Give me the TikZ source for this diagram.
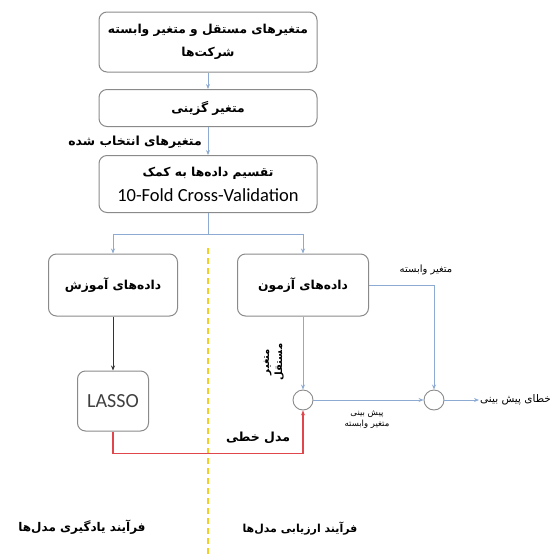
\documentclass[tikz,border=0pt]{standalone}
\usepackage{fontspec}
\setmainfont{Carlito}
\newfontfamily\fa[Script=Arabic]{DejaVu Sans}
\TeXXeTstate=1
\newcommand\rl[1]{{\fa\beginR #1\endR}}
\usetikzlibrary{arrows.meta}
\definecolor{bl}{HTML}{8CAAD2}
\definecolor{rd}{HTML}{E0474C}
\definecolor{yl}{HTML}{F2D024}
\definecolor{bx}{HTML}{8A8A8A}
\tikzset{
  box/.style={draw=bx, line width=1pt, rounded corners=8pt, align=center, inner sep=2pt, font=\fontsize{12.3}{23}\selectfont\bfseries},
  bline/.style={draw=bl, line width=1pt},
  barr/.style={bline, -{Stealth[length=5pt,width=4pt]}},
  sm/.style={font=\fontsize{8.5}{11}\selectfont, align=center, inner sep=1pt},
  lab/.style={inner sep=1pt, font=\fontsize{12.5}{14}\selectfont\bfseries},
  cir/.style={circle, draw=bx, line width=0.9pt, minimum size=20pt, inner sep=0pt},
}
\begin{document}
\begin{tikzpicture}[x=1pt,y=-1pt]
\useasboundingbox (0,0) rectangle (554,558);
% yellow divider
\draw[yl, line width=1.8pt, dash pattern=on 6pt off 4pt] (208,248) -- (208,558);
% boxes
\node[box, minimum width=218pt, minimum height=60pt] (b1) at (208,42) {\rl{متغیرهای مستقل و متغیر وابسته}\\\rl{شرکت‌ها}};
\node[box, minimum width=218pt, minimum height=37pt] (b2) at (208,108) {\rl{متغیر گزینی}};
\node[box, minimum width=218pt, minimum height=57pt, font=\fontsize{12.3}{25}\selectfont\bfseries] (b3) at (208,184) {\rl{تقسیم داده‌ها به کمک}\\{\fontsize{18.5}{20}\selectfont\mdseries 10-Fold Cross-Validation}};
\node[box, minimum width=129pt, minimum height=62pt] (train) at (113,285) {\rl{داده‌های آموزش}};
\node[box, minimum width=131pt, minimum height=62pt] (test) at (303,285) {\rl{داده‌های آزمون}};
\node[box, minimum width=71pt, minimum height=60pt, font=\fontsize{20}{22}\selectfont, text=black!75] (lasso) at (113,401) {LASSO};
\node[cir] (c1) at (303,400) {};
\node[cir] (c2) at (434,400) {};
\node[sm, anchor=west, font=\fontsize{10.5}{12}\selectfont] (err) at (479,400) {\rl{خطای پیش بینی}};
% labels
\node[lab, anchor=east] (lsel) at (203,142) {\rl{متغیرهای انتخاب شده}};
\node[sm, font=\fontsize{10}{12}\selectfont] (ldep) at (426,270) {\rl{متغیر وابسته}};
\node[sm, rotate=90, font=\fontsize{10}{13}\selectfont\bfseries] (lind) at (274,362) {\rl{متغیر}\\\rl{مستقل}};
\node[sm] (lpred) at (367,420) {\rl{پیش بینی}\\\rl{متغیر وابسته}};
\node[lab] (llin) at (258,438) {\rl{مدل خطی}};
\node[lab, font=\fontsize{12}{14}\selectfont\bfseries] (llearn) at (82,527) {\rl{فرآیند یادگیری مدل‌ها}};
\node[lab, font=\fontsize{11}{14}\selectfont\bfseries] (leval) at (300,529) {\rl{فرآیند ارزیابی مدل‌ها}};
% connectors
\coordinate (split) at (208,234);
\draw[barr] (b1) -- (b2);
\draw[barr] (b2) -- (b3);
\draw[bline] (b3.south) -- (split);
\draw[barr] (split) -| (train.north);
\draw[barr] (split) -| (test.north);
\draw[line width=1pt, draw=black!80, -{Stealth[length=5pt,width=4pt]}] (train) -- (lasso);
\draw[barr] (test) -- (c1);
\draw[barr] (test.east) -| (c2.north);
\draw[barr] (c1) -- (c2);
\draw[barr] (c2) -- (err);
\draw[rd, line width=1.5pt, -{Stealth[length=5pt,width=4pt]}] (lasso.south) -- ++(0,22) -| (c1.south);
\end{tikzpicture}
\end{document}
